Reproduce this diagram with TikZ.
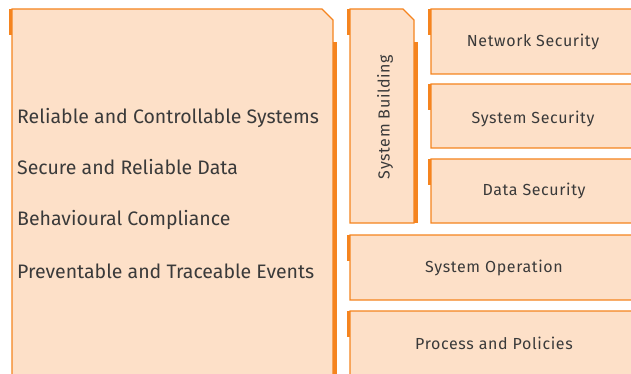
\documentclass[tikz,border=0pt]{standalone}
\usepackage{fontspec}
\setmainfont{Fira Sans}
\newfontfamily\smallfont{Fira Sans}[LetterSpace=4]
\definecolor{peach}{HTML}{FDE0C8}
\definecolor{orng}{HTML}{F5841F}
\definecolor{txt}{HTML}{3A3A3A}
\newcommand\panel[5]{%
  % #1 L, #2 T, #3 R, #4 B, #5 show right strip (1/0)
  \fill[orng] ({#1-3.5},{#2}) rectangle ({#1},{#2+26});
  \filldraw[fill=peach,draw=orng,line width=1.4pt]
    ({#1},{#2}) -- ({#3-11},{#2}) -- ({#3},{#2+11}) -- ({#3},{#4}) -- ({#1},{#4}) -- cycle;
  \ifnum#5=1 \fill[orng] ({#3},{#2+33}) rectangle ({#3+4},{#4});\fi
}
\begin{document}
\begin{tikzpicture}[x=1pt,y=-1pt,
  big/.style={font=\fontsize{19.5}{22}\selectfont,text=txt,anchor=west,inner sep=0pt},
  small/.style={font=\smallfont\fontsize{16}{18}\selectfont,text=txt,inner sep=0pt}]
\useasboundingbox (0,0) rectangle (631,374);
\clip (0,0) rectangle (631,374);
\panel{12}{9}{333}{390}{1}
\panel{350}{9}{414}{223}{1}
\panel{431}{9}{650}{74}{0}
\panel{431}{84}{650}{148}{0}
\panel{431}{159}{650}{223}{0}
\panel{350}{235}{650}{300}{0}
\panel{350}{311}{650}{390}{0}
\node[big] (t1) at (17,117.5) {Reliable and Controllable Systems};
\node[big] (t2) at (17,167.5) {Secure and Reliable Data};
\node[big] (t3) at (17,219.5) {Behavioural Compliance};
\node[big] (t4) at (17,271) {Preventable and Traceable Events};
\node[small,rotate=90] (sb) at (385,117) {System Building};
\node[small] (ns) at (533,42) {Network Security};
\node[small] (ss) at (533,119) {System Security};
\node[small] (ds) at (534,191) {Data Security};
\node[small] (so) at (494,268) {System Operation};
\node[small] (pp) at (494,343) {Process and Policies};
\end{tikzpicture}
\end{document}
